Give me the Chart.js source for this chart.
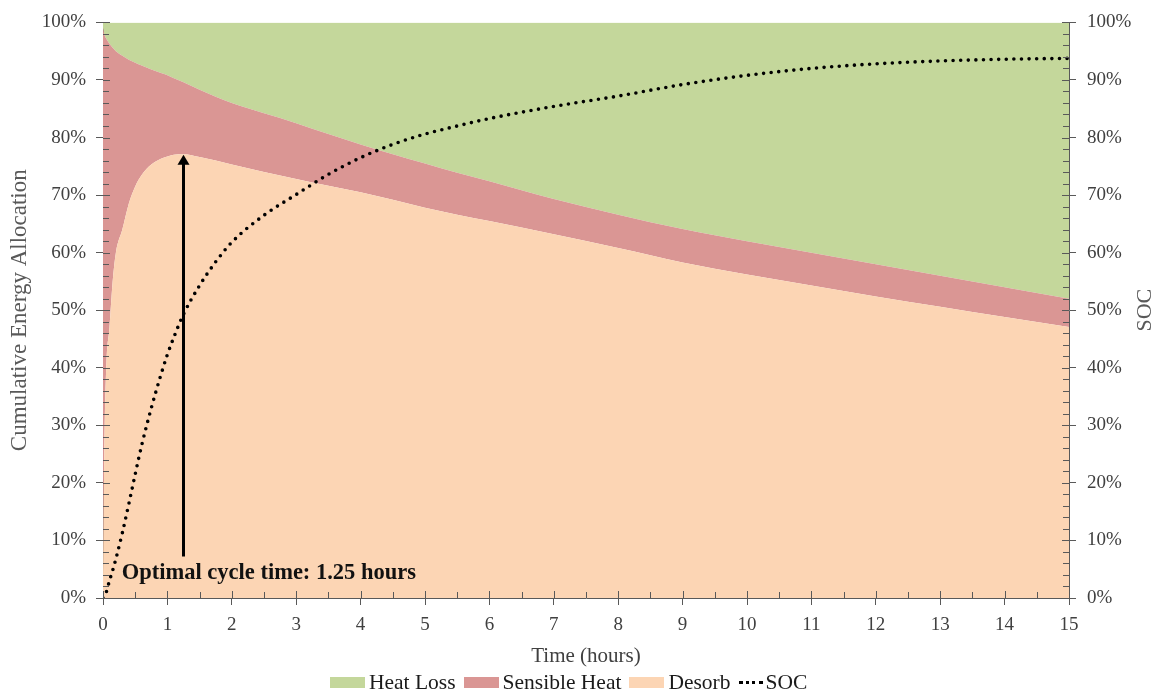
<!DOCTYPE html>
<html lang="en">
<head>
<meta charset="UTF-8">
<title>Cumulative Energy Allocation</title>
<script src="https://cdn.jsdelivr.net/npm/chart.js@4.4.7/dist/chart.umd.min.js"></script>
<style>
    body { margin: 0; background: #fff; }
    .wrap { position: relative; width: 1158px; height: 698px; }
    .legend {
        position: absolute; left: 330px; top: 670px;
        display: flex; align-items: center;
        font-family: "Liberation Serif", serif; font-size: 21.5px; color: #1a1a1a;
    }
    .legend .box { display: inline-block; width: 35px; height: 11px; margin-right: 4px; }
    .legend .item { display: flex; align-items: center; margin-right: 8px; }
    .legend .dots { display: inline-block; width: 24px; border-top: 3px dotted #000; margin-right: 3px; }
</style>
</head>
<body>
<div class="wrap">
    <canvas id="chart" width="1158" height="698"></canvas>
    <div class="legend">
        <span class="item"><span class="box" style="background:#C4D79B"></span>Heat Loss</span>
        <span class="item"><span class="box" style="background:#DA9694"></span>Sensible Heat</span>
        <span class="item"><span class="box" style="background:#FCD5B4"></span>Desorb</span>
        <span class="item"><span class="dots"></span>SOC</span>
    </div>
</div>
<script>
    // time in hours
    const times = [0, 0.02, 0.05, 0.1, 0.15, 0.2, 0.3, 0.4, 0.5, 0.6, 0.75, 0.9, 1, 1.1, 1.25, 1.5, 1.75, 2, 2.5, 3,
        3.5, 4, 4.5, 5, 5.5, 6, 7, 8, 9, 10, 11, 12, 13, 14, 15];

    // stacked shares (%)
    const desorb = [0, 25, 40, 47, 55, 60, 64, 68.5, 71.5, 73.5, 75.3, 76.3, 76.7, 77, 77.1, 76.6, 76, 75.3, 74, 72.8,
        71.6, 70.5, 69.2, 67.8, 66.6, 65.5, 63.2, 60.8, 58.3, 56.2, 54.3, 52.4, 50.6, 48.8, 47.1];
    const sensibleHeat = [99, 73, 57.2, 49.3, 40.6, 35, 30.2, 25, 21.5, 19, 16.5, 14.9, 14.1, 13.3, 12.5, 11.7, 11.1, 10.7, 10.2, 9.7,
        9, 8.3, 7.9, 7.7, 7.3, 6.9, 6.1, 5.8, 5.8, 5.8, 5.7, 5.6, 5.4, 5.2, 4.9];
    const heatLoss = [1, 2, 2.8, 3.7, 4.4, 5, 5.8, 6.5, 7, 7.5, 8.2, 8.8, 9.2, 9.7, 10.4, 11.7, 12.9, 14, 15.8, 17.5,
        19.4, 21.2, 22.9, 24.5, 26.1, 27.6, 30.7, 33.4, 35.9, 38, 40, 42, 44, 46, 48];

    // state of charge (%), right axis
    const soc = [0, 0.4, 1, 3, 4.8, 6.8, 11.3, 16.3, 21.5, 26.5, 33, 38.8, 42.3, 45.3, 49.3, 54.3, 58.4, 61.8, 66.5, 70.1,
        73.6, 76.5, 78.8, 80.6, 82, 83.3, 85.4, 87.2, 89.2, 90.8, 92, 92.8, 93.3, 93.6, 93.75];

    const hourTicks = [0, 1, 2, 3, 4, 5, 6, 7, 8, 9, 10, 11, 12, 13, 14, 15];
    const hourMinorTicks = [0.5, 1.5, 2.5, 3.5, 4.5, 5.5, 6.5, 7.5, 8.5, 9.5, 10.5, 11.5, 12.5, 13.5, 14.5];
    const pctTicks = [0, 10, 20, 30, 40, 50, 60, 70, 80, 90, 100];
    const pctMinorTicks = [2, 4, 6, 8, 12, 14, 16, 18, 22, 24, 26, 28, 32, 34, 36, 38, 42, 44, 46, 48, 52, 54, 56, 58,
        62, 64, 66, 68, 72, 74, 76, 78, 82, 84, 86, 88, 92, 94, 96, 98];

    // annotation
    const optimalTime = 1.25;
    const arrowFrom = 7.2;
    const arrowTo = 77;
    const noteText = 'Optimal cycle time: 1.25 hours';
    const noteTime = 0.29;
    const noteLevel = 4.3;

    const axisColor = '#595959';
    const serif = '"Liberation Serif", serif';

    const pts = vals => times.map((t, i) => ({ x: t, y: vals[i] }));

    function setTicks(list) {
        return function (scale) { scale.ticks = list.map(v => ({ value: v })); };
    }

    // inner tick marks (majors cross the axis, minors only inside)
    const tickMarks = {
        id: 'tickMarks',
        afterDraw(chart) {
            const { ctx, chartArea, scales } = chart;
            ctx.save();
            ctx.strokeStyle = axisColor;
            ctx.lineWidth = 1;
            ctx.beginPath();
            const l = chartArea.left, r = chartArea.right, b = chartArea.bottom;
            pctTicks.forEach(v => {
                const y = Math.round(scales.y.getPixelForValue(v)) + 0.5;
                ctx.moveTo(l, y); ctx.lineTo(l + 7, y);
                ctx.moveTo(r, y); ctx.lineTo(r - 7, y);
            });
            pctMinorTicks.forEach(v => {
                const y = Math.round(scales.y.getPixelForValue(v)) + 0.5;
                ctx.moveTo(l, y); ctx.lineTo(l + 6, y);
                ctx.moveTo(r, y); ctx.lineTo(r - 6, y);
            });
            hourTicks.forEach(v => {
                const x = Math.round(scales.x.getPixelForValue(v)) + 0.5;
                ctx.moveTo(x, b); ctx.lineTo(x, b - 7);
            });
            hourMinorTicks.forEach(v => {
                const x = Math.round(scales.x.getPixelForValue(v)) + 0.5;
                ctx.moveTo(x, b); ctx.lineTo(x, b - 6);
            });
            ctx.stroke();

            // right axis title, reading upwards like the left one
            ctx.font = '22px ' + serif;
            ctx.fillStyle = '#595959';
            ctx.textAlign = 'center';
            ctx.textBaseline = 'middle';
            ctx.translate(1145, (chartArea.top + chartArea.bottom) / 2);
            ctx.rotate(-Math.PI / 2);
            ctx.fillText('SOC', 0, 0);
            ctx.restore();
        }
    };

    const note = {
        id: 'note',
        afterDatasetsDraw(chart) {
            const { ctx, scales } = chart;
            const x = scales.x.getPixelForValue(optimalTime);
            const y0 = scales.y.getPixelForValue(arrowFrom);
            const y1 = scales.y.getPixelForValue(arrowTo);
            ctx.save();
            ctx.strokeStyle = '#000';
            ctx.fillStyle = '#000';
            ctx.lineWidth = 3;
            ctx.beginPath();
            ctx.moveTo(x, y0);
            ctx.lineTo(x, y1 + 8);
            ctx.stroke();
            ctx.beginPath();
            ctx.moveTo(x, y1);
            ctx.lineTo(x - 6, y1 + 10);
            ctx.lineTo(x + 6, y1 + 10);
            ctx.closePath();
            ctx.fill();
            ctx.font = 'bold 22.5px ' + serif;
            ctx.fillStyle = '#111';
            ctx.textBaseline = 'middle';
            ctx.fillText(noteText, scales.x.getPixelForValue(noteTime), scales.y.getPixelForValue(noteLevel));
            ctx.restore();
        }
    };

    const area = (label, vals, color, fill) => ({
        label, data: pts(vals), yAxisID: 'y', stack: 'energy',
        backgroundColor: color, borderWidth: 0, pointRadius: 0, fill, cubicInterpolationMode: 'monotone'
    });

    new Chart(document.getElementById('chart'), {
        type: 'line',
        data: {
            datasets: [
                {
                    label: 'SOC', data: pts(soc), yAxisID: 'y1',
                    borderColor: '#000', borderWidth: 3.6, borderDash: [0, 7.6], borderCapStyle: 'round',
                    pointRadius: 0, fill: false, cubicInterpolationMode: 'monotone'
                },
                area('Desorb', desorb, '#FCD5B4', 'origin'),
                area('Sensible Heat', sensibleHeat, '#DA9694', '-1'),
                area('Heat Loss', heatLoss, '#C4D79B', '-1')
            ]
        },
        options: {
            responsive: false,
            animation: false,
            layout: { padding: { top: 22 } },
            plugins: { legend: { display: false }, tooltip: { enabled: false } },
            scales: {
                x: {
                    type: 'linear', min: 0, max: 15,
                    afterBuildTicks: setTicks(hourTicks),
                    afterFit: s => { s.height = 100; },
                    grid: { drawOnChartArea: false, tickLength: 7, color: axisColor },
                    border: { color: axisColor },
                    ticks: { color: '#404040', padding: 9, maxRotation: 0, font: { family: serif, size: 19 } },
                    title: { display: true, text: 'Time (hours)', color: '#404040',
                        padding: { bottom: 29 }, font: { family: serif, size: 21 } }
                },
                y: {
                    position: 'left', stacked: true, min: 0, max: 100,
                    afterBuildTicks: setTicks(pctTicks),
                    afterFit: s => { s.width = 103; },
                    grid: { drawOnChartArea: false, tickLength: 7, color: axisColor },
                    border: { color: axisColor },
                    ticks: { color: '#404040', padding: 10, callback: v => v + '%', font: { family: serif, size: 19 } },
                    title: { display: true, text: 'Cumulative Energy Allocation', color: '#595959',
                        padding: { top: 6 }, font: { family: serif, size: 23 } }
                },
                y1: {
                    position: 'right', min: 0, max: 100,
                    afterBuildTicks: setTicks(pctTicks),
                    afterFit: s => { s.width = 89; },
                    grid: { drawOnChartArea: false, tickLength: 7, color: axisColor },
                    border: { color: axisColor },
                    ticks: { color: '#404040', padding: 11, callback: v => v + '%', font: { family: serif, size: 19 } },
                    title: { display: false }
                }
            }
        },
        plugins: [note, tickMarks]
    });
</script>
</body>
</html>
